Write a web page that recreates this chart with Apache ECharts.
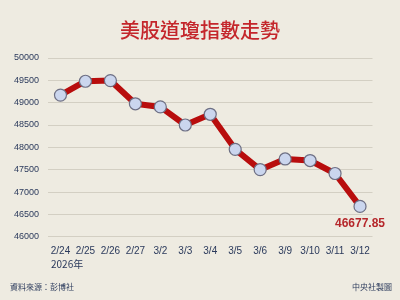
<!DOCTYPE html>
<html><head><meta charset="utf-8">
<script src="https://cdn.jsdelivr.net/npm/echarts@6/dist/echarts.min.js"></script>
<style>html,body{margin:0;padding:0;background:#eeebe1;}#c{width:400px;height:300px;}</style>
</head><body><div id="c"></div>
<script>
var categories = ['2/24','2/25','2/26','2/27','3/2','3/3','3/4','3/5','3/6','3/9','3/10','3/11','3/12'];
var values = [49170, 49480, 49495, 48975, 48905, 48500, 48740, 47955, 47500, 47740, 47705, 47415, 46677.85];
var yTicks = [46000, 46500, 47000, 47500, 48000, 48500, 49000, 49500, 50000];
var titleText = '美股道瓊指數走勢';
var yearText = '2026年';
var sourceText = '資料來源：彭博社';
var creditText = '中央社製圖';

var fam = "'Liberation Sans', sans-serif";
var chart = echarts.init(document.getElementById('c'), null, {renderer:'canvas'});
var last = values.length - 1;
chart.setOption({
  backgroundColor: '#eeebe1',
  animation: false,
  title: {
    text: titleText, left: 'center', top: 15,
    textStyle: {color:'#c4262b', fontSize:20, fontWeight:500, fontFamily:'Noto Sans CJK TC'}
  },
  grid: {left:48, right:27.5, top:58, bottom:63.3},
  xAxis: {
    type:'category', data: categories, boundaryGap: true,
    axisLine:{show:false}, axisTick:{show:false},
    axisLabel:{color:'#2b3a5c', fontSize:10, margin:10, fontFamily:fam, interval:0}
  },
  yAxis: {
    type:'value', min: yTicks[0], max: yTicks[yTicks.length-1], interval: 500,
    axisLine:{show:false}, axisTick:{show:false},
    axisLabel:{color:'#2b3a5c', fontSize:9, margin:9, fontFamily:fam,
      formatter:function(v){ return String(v); }},
    splitLine:{lineStyle:{color:'#d3cfc3', width:1.2}}
  },
  series: [{
    type:'line', data: values.map(function(v,i){
      if (i === last) return {value:v, label:{show:true, position:'bottom', distance:5,
        formatter: function(p){ return p.value.toFixed(2); },
        color:'#b5262a', fontSize:12, fontWeight:'bold', fontFamily:fam}};
      return v;
    }),
    lineStyle:{color:'#b80d0d', width:6},
    symbol:'circle', symbolSize:12,
    itemStyle:{color:'#cbd6ee', borderColor:'#6d6f84', borderWidth:1.2}
  }],
  graphic: [
    {type:'text', left:51, top:259, style:{text:yearText, fill:'#2b3a5c', font:'10px "Noto Sans CJK TC"'}},
    {type:'text', left:10, top:283, style:{text:sourceText, fill:'#2b3a5c', font:'8px "Noto Sans CJK TC"'}},
    {type:'text', right:8, top:283, style:{text:creditText, fill:'#2b3a5c', font:'8px "Noto Sans CJK TC"'}}
  ]
});
</script></body></html>
